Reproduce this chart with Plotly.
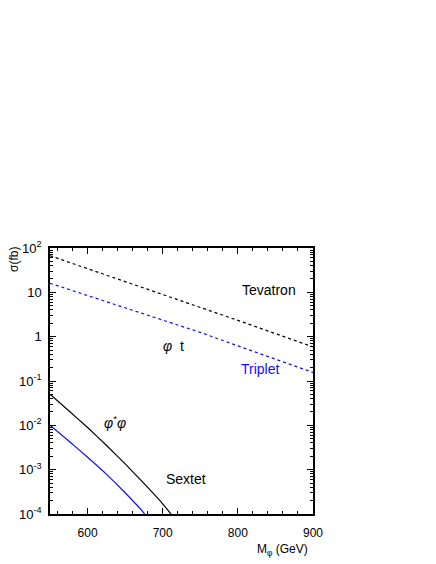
import plotly.graph_objects as go

# mass points (GeV) and cross sections (fb)
mass_pair = [550, 575, 600, 625, 650, 675, 700, 712]
sextet_pair = [0.0501, 0.0214, 0.00891, 0.00355, 0.00135, 0.000490, 0.000170, 0.000095]

mass_pair_tr = [550, 575, 600, 625, 650, 675, 677]
triplet_pair = [0.0100, 0.00442, 0.00191, 0.000794, 0.000302, 0.000105, 0.0000912]

mass_single = [550, 600, 650, 700, 750, 800, 850, 900]
tevatron_single = [67, 34.4, 17.7, 9.1, 4.62, 2.33, 1.17, 0.59]
triplet_single = [16, 8.54, 4.56, 2.44, 1.25, 0.62, 0.307, 0.156]

y_tickvals = [1e2, 1e1, 1, 1e-1, 1e-2, 1e-3, 1e-4]
y_ticktext = ["10<sup>2</sup>", "10", "1", "10<sup>-1</sup>", "10<sup>-2</sup>",
              "10<sup>-3</sup>", "10<sup>-4</sup>"]
x_tickvals = [600, 700, 800, 900]

FONT = "Liberation Sans, Arial, Helvetica, sans-serif"
BLUE = "#1010f0"
PAGE_PAD = 8  # the html body margin shifts the figure

fig = go.Figure()
fig.add_trace(go.Scatter(x=mass_single, y=tevatron_single, mode="lines",
                         line=dict(color="black", width=1.2, dash="dot")))
fig.add_trace(go.Scatter(x=mass_single, y=triplet_single, mode="lines",
                         line=dict(color=BLUE, width=1.2, dash="dot")))
fig.add_trace(go.Scatter(x=mass_pair, y=sextet_pair, mode="lines",
                         line=dict(color="black", width=1.2, shape="spline", smoothing=0.5)))
fig.add_trace(go.Scatter(x=mass_pair_tr, y=triplet_pair, mode="lines",
                         line=dict(color=BLUE, width=1.2, shape="spline", smoothing=0.5)))

labels = [
    (269, 290, "Tevatron", "black"),
    (260, 369, "Triplet", BLUE),
    (173, 346, "<i>φ</i>  t", "black"),
    (115, 422, "<i>φ</i><sup>*</sup><i>φ</i>", "black"),
    (186, 479, "Sextet", "black"),
]
for px_, py_, txt, col in labels:
    fig.add_annotation(x=(px_ - 50) / 263, y=(514 - py_) / 266, xref="paper", yref="paper",
                       xanchor="center", yanchor="middle", text=txt, showarrow=False,
                       font=dict(size=14, color=col, family=FONT))

fig.add_annotation(x=(14 - 50) / 263, y=(514 - 260) / 266, xref="paper", yref="paper",
                   xanchor="center", yanchor="middle", text="σ(fb)", textangle=-90,
                   showarrow=False, font=dict(size=12, color="black", family=FONT))
fig.add_annotation(x=(282 - 50) / 263, y=(514 - 550) / 266, xref="paper", yref="paper",
                   xanchor="center", yanchor="middle", text="M<sub>φ</sub> (GeV)",
                   showarrow=False, font=dict(size=12, color="black", family=FONT))

fig.update_xaxes(range=[550, 900], tickvals=x_tickvals, ticks="inside", ticklen=6,
                 tickwidth=1, tickcolor="black", showline=True, linecolor="black",
                 linewidth=1.5, mirror="allticks", showgrid=False, zeroline=False,
                 ticklabelstandoff=7,
                 minor=dict(ticks="inside", ticklen=3, tick0=560, dtick=20,
                            tickcolor="black", showgrid=False),
                 tickfont=dict(size=12, family=FONT, color="black"))
fig.update_yaxes(type="log", range=[-4, 2], tickvals=y_tickvals, ticktext=y_ticktext,
                 ticks="inside", ticklen=6, tickwidth=1, tickcolor="black",
                 showline=True, linecolor="black", linewidth=1.5, mirror="allticks",
                 showgrid=False, zeroline=False, ticklabelstandoff=4,
                 minor=dict(ticks="inside", ticklen=3, dtick="D1",
                            tickcolor="black", showgrid=False),
                 tickfont=dict(size=13, family=FONT, color="black"))

fig.update_layout(width=436 - PAGE_PAD, height=564 - PAGE_PAD, showlegend=False,
                  margin=dict(l=50 - PAGE_PAD, r=123, t=248 - PAGE_PAD, b=50,
                              autoexpand=False),
                  paper_bgcolor="white", plot_bgcolor="white",
                  font=dict(family=FONT, color="black"))

fig.write_html("out.html")
